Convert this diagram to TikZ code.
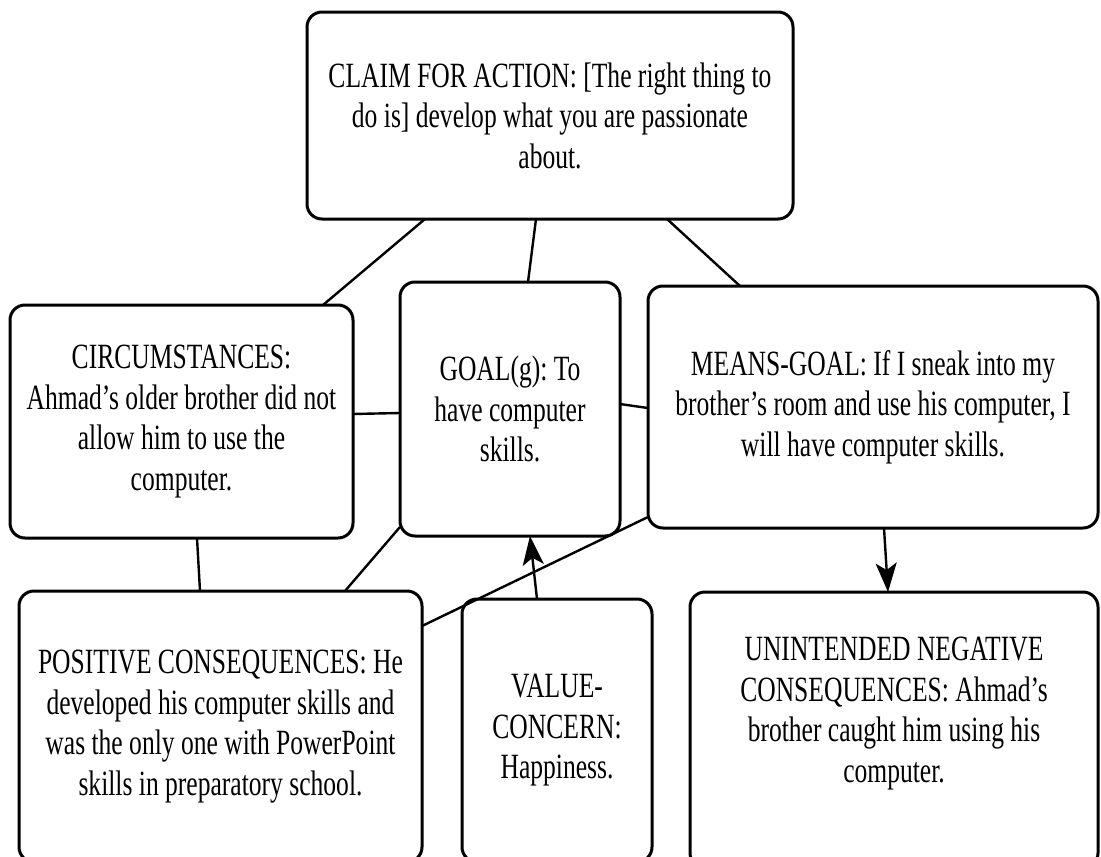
\documentclass[tikz,border=0pt]{standalone}
\usepackage{fontspec}
\setmainfont{Liberation Serif}[FakeStretch=0.72]
\usetikzlibrary{arrows.meta}
\frenchspacing

\begin{document}
\begin{tikzpicture}[x=1pt, y=-1pt,
  box/.style={draw, line width=3pt, rounded corners=15pt, inner sep=0pt,
    outer sep=0pt, anchor=north west, align=center,
    font=\fontsize{35.5}{40.5}\selectfont},
  link/.style={line width=2.4pt},
  arr/.style={link, -{Stealth[length=29pt, width=21pt, inset=7pt]}}]
\useasboundingbox (0,0) rectangle (1101,857);
\clip (0,0) rectangle (1101,857);

% boxes (top-left corner given in page coordinates)
\node[box, minimum width=486pt, minimum height=207pt] (claim) at (307,12)
  {CLAIM FOR ACTION: [The right thing to\\do is] develop what you are passionate\\about.};
\node[box, minimum width=343pt, minimum height=233pt] (circ) at (10,305)
  {CIRCUMSTANCES:\\Ahmad’s older brother did not\\allow him to use the\\computer.};
\node[box, minimum width=220pt, minimum height=254pt] (goal) at (400,282)
  {GOAL(g): To\\have computer\\skills.};
\node[box, minimum width=450pt, minimum height=242pt] (means) at (648,286)
  {MEANS-GOAL: If I sneak into my\\brother’s room and use his computer, I\\will have computer skills.};
\node[box, minimum width=403pt, minimum height=271pt] (pos) at (19,591)
  {POSITIVE CONSEQUENCES: He\\developed his computer skills and\\was the only one with PowerPoint\\skills in preparatory school.};
\node[box, minimum width=190pt, minimum height=263pt] (val) at (462,599)
  {VALUE-\\CONCERN:\\Happiness.};
\node[box, minimum width=408pt, minimum height=276pt] (unint) at (690,592)
  {UNINTENDED NEGATIVE\\CONSEQUENCES: Ahmad’s\\brother caught him using his\\computer.\\\mbox{}};

% connectors
\draw[link] ([xshift=118pt]claim.south west) -- ([xshift=-30pt]circ.north east);
\draw[link] ([xshift=229pt]claim.south west) -- ([xshift=128pt]goal.north west);
\draw[link] ([xshift=360pt]claim.south west) -- ([xshift=92pt]means.north west);
\draw[link] ([yshift=124pt]circ.south east) -- ([yshift=-131pt]goal.north west);
\draw[link] ([yshift=-122pt]goal.north east) -- ([yshift=-122pt]means.north west);
\draw[link] ([xshift=187pt]circ.south west) -- ([xshift=181pt]pos.north west);
\draw[link] ([yshift=9pt]goal.south west) -- ([xshift=326pt]pos.north west);
\draw[link] ([yshift=11pt]means.south west) -- ([yshift=-35pt]pos.north east);
\draw[arr] ([xshift=75pt]val.north west) -- ([xshift=130pt]goal.south west);
\draw[arr] ([xshift=236pt]means.south west) -- ([xshift=198pt]unint.north west);
\end{tikzpicture}
\end{document}
